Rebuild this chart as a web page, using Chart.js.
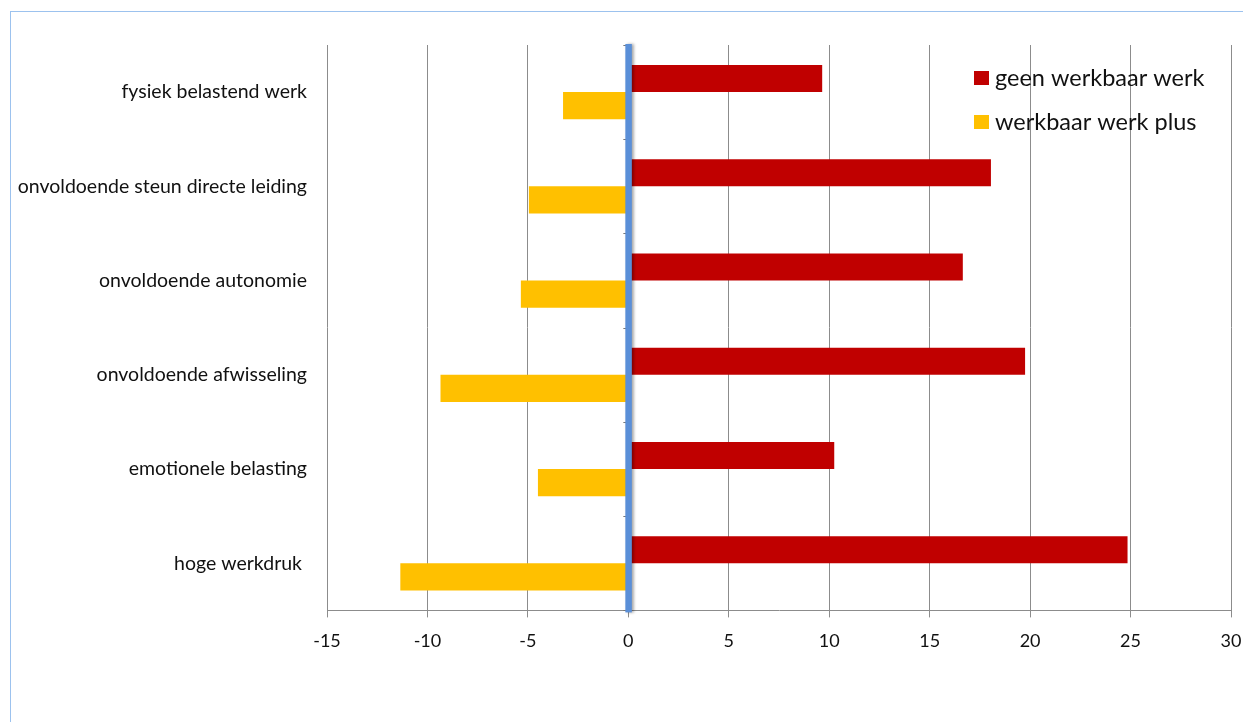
<!DOCTYPE html>
<html>
<head>
<meta charset="utf-8">
<script src="https://cdn.jsdelivr.net/npm/chart.js@4/dist/chart.umd.min.js"></script>
<style>
  html, body { margin: 0; padding: 0; background: #fff; }
  #wrap { position: relative; width: 1243px; height: 722px; }
  #frame { position: absolute; left: 10px; top: 11px; width: 1240px; height: 720px;
           border-left: 1px solid #9cc2ee; border-top: 1px solid #9cc2ee; }
</style>
</head>
<body>
<div id="wrap">
  <div id="frame"></div>
  <canvas id="chart" width="1243" height="722"></canvas>
</div>
<script>
const categories = [
  'fysiek belastend werk',
  'onvoldoende steun directe leiding',
  'onvoldoende autonomie',
  'onvoldoende afwisseling',
  'emotionele belasting',
  'hoge werkdruk '
];
const seriesNames = ['geen werkbaar werk', 'werkbaar werk plus'];
const geenWerkbaar = [9.65, 18.05, 16.65, 19.75, 10.25, 24.85];
const werkbaarPlus = [-3.25, -4.95, -5.35, -9.35, -4.5, -11.35];
const colors = ['#c00000', '#ffc000'];

const fontFamily = 'Lato, "Open Sans", sans-serif';

// blue line at zero plus the little category ticks on it
const zeroLine = {
  id: 'zeroLine',
  afterDatasetsDraw(chart) {
    const ctx = chart.ctx;
    const x = chart.scales.x.getPixelForValue(0);
    const area = chart.chartArea;
    ctx.save();
    ctx.strokeStyle = '#777';
    ctx.lineWidth = 1;
    for (let i = 0; i <= categories.length; i++) {
      const py = Math.round(area.top + (area.bottom - area.top) * i / categories.length) + 0.5;
      ctx.beginPath();
      ctx.moveTo(x - 5, py);
      ctx.lineTo(x, py);
      ctx.stroke();
    }
    ctx.shadowColor = 'rgba(0,0,0,0.35)';
    ctx.shadowBlur = 3;
    ctx.shadowOffsetX = 2;
    ctx.fillStyle = '#5a8fd8';
    ctx.fillRect(x - 3, area.top - 1, 6.5, area.bottom - area.top + 3);
    ctx.restore();
  }
};

// legend drawn inside the plot at top right
const innerLegend = {
  id: 'innerLegend',
  afterDraw(chart) {
    const ctx = chart.ctx;
    ctx.save();
    ctx.font = '23.5px ' + fontFamily;
    ctx.textBaseline = 'middle';
    chart.data.datasets.forEach((ds, i) => {
      const cy = 78 + i * 44;
      ctx.fillStyle = ds.backgroundColor;
      ctx.fillRect(974, cy - 7, 15, 14);
      ctx.fillStyle = '#111';
      ctx.fillText(ds.label, 995, cy);
    });
    ctx.restore();
  }
};

new Chart(document.getElementById('chart'), {
  type: 'bar',
  data: {
    labels: categories,
    datasets: [
      { label: seriesNames[0], data: geenWerkbaar, backgroundColor: colors[0] },
      { label: seriesNames[1], data: werkbaarPlus, backgroundColor: colors[1] }
    ]
  },
  options: {
    indexAxis: 'y',
    responsive: false,
    animation: false,
    devicePixelRatio: 1,
    categoryPercentage: 0.575,
    barPercentage: 1,
    layout: { padding: { top: 45, right: 0, bottom: 57, left: 0 } },
    plugins: { legend: { display: false }, tooltip: { enabled: false } },
    scales: {
      x: {
        min: -15, max: 30,
        ticks: { stepSize: 5, color: '#111', font: { family: fontFamily, size: 18 }, padding: 13 },
        grid: { color: '#8c8c8c', lineWidth: 1, tickLength: 7 },
        border: { color: '#8c8c8c' },
        afterFit(scale) { scale.paddingRight = 12; }
      },
      y: {
        ticks: { color: '#111', font: { family: fontFamily, size: 19.5 }, padding: 12 },
        grid: { display: false },
        border: { display: false },
        afterFit(scale) { scale.width = 327; }
      }
    }
  },
  plugins: [zeroLine, innerLegend]
});
</script>
</body>
</html>
